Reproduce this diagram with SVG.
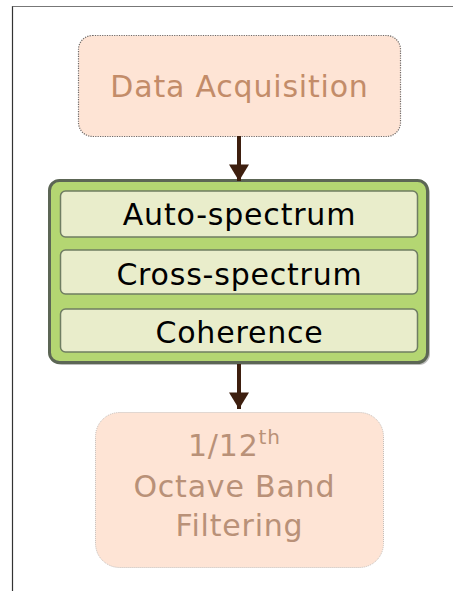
<svg xmlns="http://www.w3.org/2000/svg" width="453" height="591" viewBox="0 0 453 591">
  <style>
    .frame { stroke: #333; stroke-width: 1.2; fill: none; }
    .peach { fill: #fee4d5; }
    .lbl { font-family: "DejaVu Sans", Verdana, sans-serif; text-anchor: middle; letter-spacing: 0.8px; }
    .step { fill: #e9edcb; stroke: #6f7d62; stroke-width: 1.5; }
    .conn { stroke: #3e1f0f; stroke-width: 4; fill: none; }
  </style>
  <defs>
    <marker id="head" markerUnits="userSpaceOnUse" markerWidth="24" markerHeight="20" refX="19" refY="11.5" orient="auto" viewBox="0 0 20 23">
      <path d="M0,0 L19,11.5 L0,23 Z" fill="#3e1f0f"/>
    </marker>
  </defs>

  <rect width="453" height="591" fill="#ffffff"/>
  <!-- page frame -->
  <path class="frame" d="M12.5,591 V6.5 H453" />
  <path d="M12.5,6.5 H453" stroke="#777" stroke-width="1.2" fill="none"/>

  <g id="data-acquisition">
    <rect class="peach" x="78.5" y="35.5" width="322" height="101" rx="14" stroke="#6e6a68" stroke-width="1.2" stroke-dasharray="1.2 1.2"/>
    <text class="lbl" x="239.5" y="97" font-size="30" fill="#c38c69">Data Acquisition</text>
  </g>

  <g id="spectral-analysis">
    <rect x="51" y="182" width="379" height="183" rx="11" fill="#7a7a7a" opacity="0.5"/>
    <rect x="49.5" y="180.5" width="378" height="182" rx="10" fill="#b4d672" stroke="#5c6655" stroke-width="3"/>
    <g id="auto-spectrum">
      <rect class="step" x="60.5" y="191" width="357" height="46" rx="5"/>
      <text class="lbl" x="239.5" y="225" font-size="30" fill="#000">Auto-spectrum</text>
    </g>
    <g id="cross-spectrum">
      <rect class="step" x="60.5" y="250" width="357" height="44" rx="5"/>
      <text class="lbl" x="239.5" y="285" font-size="30" fill="#000">Cross-spectrum</text>
    </g>
    <g id="coherence">
      <rect class="step" x="60.5" y="309" width="357" height="43" rx="5"/>
      <text class="lbl" x="239.5" y="343" font-size="30" fill="#000">Coherence</text>
    </g>
  </g>

  <g id="octave-filtering">
    <rect class="peach" x="95.5" y="412.5" width="288" height="155" rx="24" stroke="#c4bdb8" stroke-width="1" stroke-dasharray="1 1"/>
    <text class="lbl" font-size="30" fill="#b99178">
      <tspan x="239.5" y="456">1/12<tspan font-size="20" dy="-12">th</tspan></tspan>
      <tspan x="239.5" y="497">Octave Band</tspan>
      <tspan x="239.5" y="536">Filtering</tspan>
    </text>
  </g>

  <g id="connectors">
    <line class="conn" x1="239" y1="136" x2="239" y2="181" marker-end="url(#head)"/>
    <line class="conn" x1="239" y1="364" x2="239" y2="409" marker-end="url(#head)"/>
  </g>
</svg>
